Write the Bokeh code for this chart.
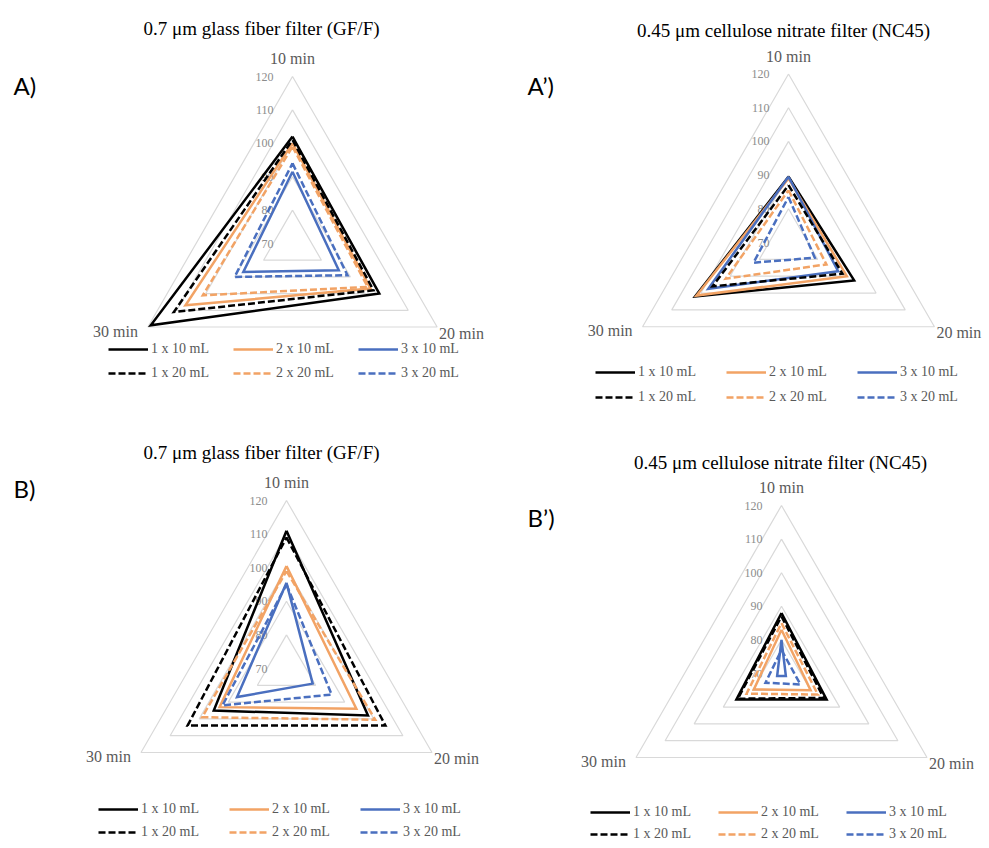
import math
from bokeh.plotting import figure
from bokeh.layouts import gridplot
from bokeh.models import Range1d, Legend, LegendItem
from bokeh.core.properties import value
from bokeh.embed import file_html
from bokeh.resources import INLINE

# ---------------- data ----------------
categories = ["10 min", "20 min", "30 min"]
grid_levels = [80, 90, 100, 110, 120]
tick_values = [120, 110, 100, 90, 80, 70]
tick_labels = ["120", "110", "100", "90", "80", "70"]
r_min = 70
series_names = ["1 x 10 mL", "2 x 10 mL", "3 x 10 mL", "1 x 20 mL", "2 x 20 mL", "3 x 20 mL"]

# values in order: 10 min, 20 min, 30 min
A_1x10 = [102, 100, 119]
A_2x10 = [100, 97, 107]
A_3x10 = [91.5, 86, 87]
A_1x20 = [101, 98, 111]
A_2x20 = [99, 96, 101]
A_3x20 = [94, 89, 90]

Ap_1x10 = [89.5, 92.5, 102]
Ap_2x10 = [89, 90, 101.5]
Ap_3x10 = [89.5, 87, 97.5]
Ap_1x20 = [87, 88.5, 96]
Ap_2x20 = [85.5, 83, 91.5]
Ap_3x20 = [83.5, 79, 82]

B_1x10 = [111, 98, 95]
B_2x10 = [100.5, 94, 93]
B_3x10 = [95.5, 79, 87]
B_1x20 = [109, 104, 104]
B_2x20 = [99, 100.5, 99]
B_3x20 = [95, 85.5, 92]

Bp_1x10 = [88, 85.5, 85.5]
Bp_2x10 = [83, 80, 79.5]
Bp_3x10 = [80, 71.5, 71.5]
Bp_1x20 = [87, 84.5, 85]
Bp_2x20 = [85, 82.5, 82]
Bp_3x20 = [77, 76.5, 75.5]

# ---------------- styles ----------------
colors = ["#000000", "#F2A365", "#4A6FBF", "#000000", "#F2A365", "#4A6FBF"]
dashes = ["solid", "solid", "solid", "7 3", "7 3", "7 3"]
SERIF = "Liberation Serif"

W_L = 486
W_R = 500
H_TOP = 418
H_BOT = 427

panels = [
    dict(data=[A_1x10, A_2x10, A_3x10, A_1x20, A_2x20, A_3x20],
         title="0.7 μm glass fiber filter (GF/F)", letter="A)",
         ox=0, oy=0, w=W_L, h=H_TOP, cx=292, cy=243, k=3.34,
         title_xy=(261, 28), letter_xy=(13, 85), leg_x=108, leg_y=(350, 374), spacing=24),
    dict(data=[Ap_1x10, Ap_2x10, Ap_3x10, Ap_1x20, Ap_2x20, Ap_3x20],
         title="0.45 μm cellulose nitrate filter (NC45)", letter="A’)",
         ox=W_L, oy=0, w=W_R, h=H_TOP, cx=788, cy=242, k=3.37,
         title_xy=(783, 30), letter_xy=(527, 85), leg_x=595, leg_y=(373, 398), spacing=30),
    dict(data=[B_1x10, B_2x10, B_3x10, B_1x20, B_2x20, B_3x20],
         title="0.7 μm glass fiber filter (GF/F)", letter="B)",
         ox=0, oy=H_TOP, w=W_L, h=H_BOT, cx=286, cy=668, k=3.36,
         title_xy=(261, 452), letter_xy=(13, 488), leg_x=98, leg_y=(810, 833), spacing=30),
    dict(data=[Bp_1x10, Bp_2x10, Bp_3x10, Bp_1x20, Bp_2x20, Bp_3x20],
         title="0.45 μm cellulose nitrate filter (NC45)", letter="B’)",
         ox=W_L, oy=H_TOP, w=W_R, h=H_BOT, cx=781, cy=673, k=3.36,
         title_xy=(780, 462), letter_xy=(527, 517), leg_x=590, leg_y=(813, 835), spacing=27),
]

ANGLES = [0.0, 120.0, 240.0]  # clockwise from top: 10, 20, 30 min


def radar_xy(vals, cx, cy, k):
    xs, ys = [], []
    for v, a in zip(vals, ANGLES):
        r = (v - r_min) * k
        t = math.radians(a)
        xs.append(cx + r * math.sin(t))
        ys.append(cy - r * math.cos(t))
    return xs + xs[:1], ys + ys[:1]


figs = []
for P in panels:
    h = P["h"]
    w = P["w"]
    p = figure(width=w, height=h, output_backend="svg", toolbar_location=None,
               x_range=Range1d(0, w), y_range=Range1d(h, 0),
               x_axis_location=None, y_axis_location=None, min_border=0)
    p.grid.visible = False
    p.outline_line_color = None
    p.background_fill_color = "white"

    cx = P["cx"] - P["ox"]
    cy = P["cy"] - P["oy"]
    k = P["k"]

    # grid triangles
    for lvl in grid_levels:
        gx, gy = radar_xy([lvl] * 3, cx, cy, k)
        p.line(gx, gy, line_color="#d9d9d9", line_width=1.2)

    # tick labels
    p.text(x=[cx - 19] * len(tick_values), y=[cy - (t - r_min) * k for t in tick_values],
           text=tick_labels, text_align="right", text_baseline="middle",
           text_font=value(SERIF), text_font_size="12px", text_color="#8c8c8c")

    # category labels
    rmax = (120 - r_min) * k
    p.text(x=[cx], y=[cy - rmax - 18], text=[categories[0]], text_align="center",
           text_baseline="middle", text_font=value(SERIF), text_font_size="16px", text_color="#595959")
    p.text(x=[cx + rmax * 0.866 + 2], y=[cy + rmax * 0.5 + 6], text=[categories[1]], text_align="left",
           text_baseline="middle", text_font=value(SERIF), text_font_size="16px", text_color="#595959")
    p.text(x=[cx - rmax * 0.866 - 10], y=[cy + rmax * 0.5 + 4], text=[categories[2]], text_align="right",
           text_baseline="middle", text_font=value(SERIF), text_font_size="16px", text_color="#595959")

    # title and panel letter
    p.text(x=[P["title_xy"][0] - P["ox"]], y=[P["title_xy"][1] - P["oy"]], text=[P["title"]],
           text_align="center", text_baseline="middle", text_font=value(SERIF),
           text_font_size="19px", text_color="#000000")
    p.text(x=[P["letter_xy"][0] - P["ox"]], y=[P["letter_xy"][1] - P["oy"]], text=[P["letter"]],
           text_align="left", text_baseline="middle", text_font=value("Lato"),
           text_font_size="24px", text_color="#000000")

    # series
    renderers = []
    for vals, c, d in zip(P["data"], colors, dashes):
        sx, sy = radar_xy(vals, cx, cy, k)
        r = p.line(sx, sy, line_color=c, line_width=2.5, line_dash=d, line_join="miter")
        renderers.append(r)

    # legends (two horizontal rows)
    for row in range(2):
        items = [LegendItem(label=series_names[row * 3 + i], renderers=[renderers[row * 3 + i]])
                 for i in range(3)]
        yc = P["leg_y"][row] - P["oy"]
        leg = Legend(items=items, orientation="horizontal",
                     location=(P["leg_x"] - P["ox"], h - (yc + 7)),
                     glyph_width=40, glyph_height=14, label_height=14, label_standoff=3,
                     spacing=P["spacing"], padding=0, margin=0,
                     label_text_font=SERIF, label_text_font_size="14px",
                     label_text_color="#595959", label_text_baseline="middle",
                     background_fill_alpha=0, border_line_alpha=0)
        p.add_layout(leg, "center")
    figs.append(p)

grid = gridplot([[figs[0], figs[1]], [figs[2], figs[3]]], toolbar_location=None)

open("out.html", "w").write(file_html(grid, INLINE))
